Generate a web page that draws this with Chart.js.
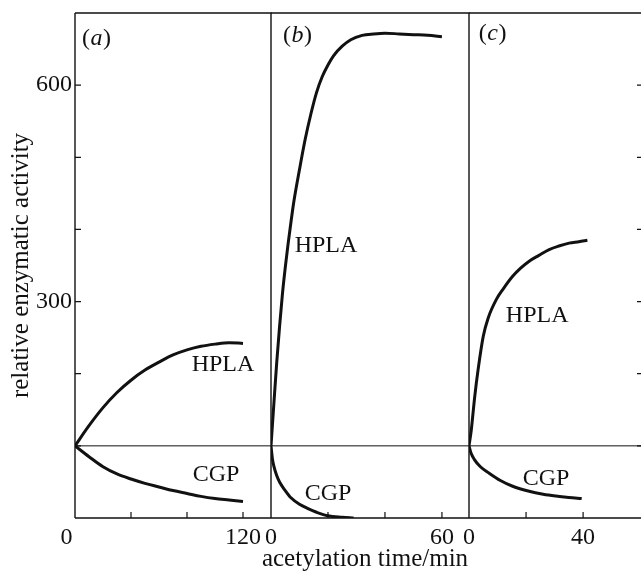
<!DOCTYPE html>
<html>
<head>
<meta charset="utf-8">
<title>Acetylation time course</title>
<style>
  html, body { margin: 0; padding: 0; background: #fff; width: 641px; height: 572px; overflow: hidden; }
  canvas { position: absolute; top: 0; }
</style>
</head>
<body>
<canvas id="panelA" width="281" height="572" style="left:0px"></canvas>
<canvas id="panelB" width="218" height="572" style="left:261px"></canvas>
<canvas id="panelC" width="194" height="572" style="left:459px"></canvas>

<script src="https://cdn.jsdelivr.net/npm/chart.js"></script>
<script>
// (a) acetylation up to 120 min
const timeA = [0, 10, 20, 30, 40, 50, 60, 70, 80, 90, 100, 110, 120];
const hplaA = [100, 128, 153, 174, 191, 205, 216, 226, 233, 238, 241, 243, 242];
const cgpA  = [100, 85, 71, 61, 54, 48, 43, 38, 34, 30, 27, 25, 23];

// (b) acetylation up to 60 min
const timeHplaB = [0, 1, 2, 3, 4, 5, 6, 7, 8, 10, 12, 14, 16, 18, 20, 22, 25, 28, 32, 36, 40, 45, 50, 55, 60];
const hplaB     = [100, 158, 215, 265, 310, 347, 380, 410, 438, 483, 525, 560, 590, 612, 628, 641, 654, 663, 669, 671, 672, 671, 670, 669, 667];
const timeCgpB  = [0, 0.5, 1, 2, 3, 5, 7, 10, 13, 16, 20, 25, 29];
const cgpB      = [100, 82, 72, 59, 50, 38, 28, 19, 13, 8, 3, 1, 0];

// (c) acetylation up to 40 min
const timeHplaC = [0, 0.8, 2, 3.2, 5, 6.7, 9.6, 11.9, 15.3, 18, 21.1, 24.5, 28.1, 31.5, 35.1, 38.5, 41.5];
const hplaC     = [100, 122, 168, 206, 252, 277, 303, 317, 335, 346, 356, 364, 372, 377, 381, 383, 385];
const timeCgpC  = [0, 0.7, 1.9, 4, 7.1, 11, 15.3, 21.1, 26, 30.4, 35, 39.5];
const cgpC      = [100, 90, 81, 71, 62, 52, 44, 37, 33, 30.5, 28.5, 27];

// axis ticks
const yTickValues = [100, 200, 300, 400, 500, 600];
const yTickLabels = [300, 600];
const xTicksA = [0, 40, 80, 120];
const xTicksB = [0, 20, 40, 60];
const xTicksC = [0, 20, 40];

const INK = '#111';
const SERIF = '"Liberation Serif", "Times New Roman", serif';

function pts(xs, ys) {
  return xs.map((t, i) => ({ x: t, y: ys[i] }));
}

// frame, baseline at 100, inward ticks, curve names and panel tags
const decor = {
  id: 'decor',
  afterDatasetsDraw(chart, args, opts) {
    const { ctx, chartArea: a } = chart;
    const x = chart.scales.x, y = chart.scales.y;
    ctx.save();
    ctx.strokeStyle = INK;

    const y100 = y.getPixelForValue(100);
    ctx.lineWidth = 1;
    ctx.beginPath();
    ctx.moveTo(a.left, y100);
    ctx.lineTo(a.right, y100);
    ctx.stroke();

    // frame; the left side is shared with the previous panel
    ctx.lineWidth = 1.4;
    ctx.beginPath();
    if (opts.leftBorder) {
      ctx.moveTo(a.left, a.top);
      ctx.lineTo(a.left, a.bottom);
    }
    ctx.moveTo(a.left, a.top);
    ctx.lineTo(a.right, a.top);
    ctx.lineTo(a.right, a.bottom);
    ctx.moveTo(a.left, a.bottom);
    ctx.lineTo(a.right, a.bottom);
    ctx.stroke();

    ctx.lineWidth = 1.2;
    ctx.beginPath();
    opts.xTicks.forEach(v => {
      if (v === 0) return;
      const px = x.getPixelForValue(v);
      ctx.moveTo(px, a.bottom);
      ctx.lineTo(px, a.bottom - 6);
    });
    yTickValues.forEach(v => {
      const py = y.getPixelForValue(v);
      if (opts.leftTicks) { ctx.moveTo(a.left, py); ctx.lineTo(a.left + 6, py); }
      if (opts.rightTicks) { ctx.moveTo(a.right, py); ctx.lineTo(a.right - 6, py); }
    });
    ctx.stroke();

    ctx.fillStyle = INK;
    ctx.textBaseline = 'middle';
    ctx.textAlign = 'center';
    ctx.font = '24px ' + SERIF;
    opts.names.forEach(n => {
      ctx.fillText(n.text, x.getPixelForValue(n.x), y.getPixelForValue(n.y));
    });

    // shared x axis title, placed under the middle panel
    if (opts.xTitle) {
      ctx.font = '25px ' + SERIF;
      ctx.textBaseline = 'alphabetic';
      ctx.fillText(opts.xTitle.text, x.getPixelForValue(opts.xTitle.x), a.bottom + 48);
      ctx.textBaseline = 'middle';
    }

    // panel tag like (a), letter in italic
    const tag = opts.tag;
    const up = '24px ' + SERIF, it = 'italic 24px ' + SERIF;
    ctx.font = up;
    const wl = ctx.measureText('(').width, wr = ctx.measureText(')').width;
    ctx.font = it;
    const wm = ctx.measureText(tag.text).width;
    let cx = x.getPixelForValue(tag.x) - (wl + wm + wr) / 2;
    const cy = y.getPixelForValue(tag.y);
    ctx.textAlign = 'left';
    ctx.font = up; ctx.fillText('(', cx, cy); cx += wl;
    ctx.font = it; ctx.fillText(tag.text, cx + 0.5, cy); cx += wm + 1;
    ctx.font = up; ctx.fillText(')', cx, cy);
    ctx.restore();
  }
};

function lineSet(data) {
  return {
    data: data,
    borderColor: INK,
    borderWidth: 3,
    pointRadius: 0,
    fill: false,
    tension: 0.4,
    cubicInterpolationMode: 'monotone'
  };
}

function panel(id, cfg) {
  new Chart(document.getElementById(id), {
    type: 'line',
    data: { datasets: cfg.datasets.map(lineSet) },
    plugins: [decor],
    options: {
      responsive: false,
      animation: false,
      devicePixelRatio: 1,
      layout: { padding: cfg.padding },
      plugins: {
        legend: { display: false },
        tooltip: { enabled: false },
        decor: cfg.decor
      },
      scales: {
        x: {
          type: 'linear',
          min: 0,
          max: cfg.xMax,
          grid: { display: false, drawTicks: false },
          border: { display: false },
          afterBuildTicks: s => { s.ticks = cfg.xTicks.map(v => ({ value: v })); },
          afterFit: s => { s.height = 54; s.paddingLeft = 0; s.paddingRight = 0; },
          ticks: {
            color: INK,
            padding: 5,
            maxRotation: 0,
            font: { family: SERIF, size: 24 },
            callback: cfg.xLabel
          }
        },
        y: {
          display: cfg.showY,
          min: 0,
          max: 700,
          grid: { display: false, drawTicks: false },
          border: { display: false },
          afterFit: s => { s.width = cfg.showY ? 75 : 0; s.paddingTop = 0; s.paddingBottom = 0; },
          ticks: {
            stepSize: 100,
            color: INK,
            padding: 3,
            font: { family: SERIF, size: 24 },
            callback: v => yTickLabels.includes(v) ? String(v) : ''
          },
          title: {
            display: true,
            text: 'relative enzymatic activity',
            color: INK,
            font: { family: SERIF, size: 25 },
            padding: { top: 6, bottom: 0 }
          }
        }
      }
    }
  });
}

panel('panelA', {
  datasets: [pts(timeA, hplaA), pts(timeA, cgpA)],
  padding: { left: 0, right: 10, top: 13, bottom: 0 },
  xMax: 140,
  xTicks: xTicksA,
  xLabel: v => v === 0 ? '0\u2002\u2009' : (v === 120 ? '120' : ''),
  showY: true,
  decor: {
    xTicks: xTicksA, leftTicks: true, rightTicks: false, leftBorder: true,
    tag: { text: 'a', x: 15, y: 665 },
    names: [{ text: 'HPLA', x: 105.7, y: 212 }, { text: 'CGP', x: 100.7, y: 60 }]
  }
});

panel('panelB', {
  datasets: [pts(timeHplaB, hplaB), pts(timeCgpB, cgpB)],
  padding: { left: 10, right: 10, top: 13, bottom: 0 },
  xMax: 69.5,
  xTicks: xTicksB,
  xLabel: v => (v === 0 || v === 60) ? String(v) : '',
  showY: false,
  decor: {
    xTicks: xTicksB, leftTicks: false, rightTicks: false, leftBorder: false,
    tag: { text: 'b', x: 9.1, y: 668 },
    names: [{ text: 'HPLA', x: 19.3, y: 378 }, { text: 'CGP', x: 20, y: 33 }],
    xTitle: { text: 'acetylation time/min', x: 33 }
  }
});

panel('panelC', {
  datasets: [pts(timeHplaC, hplaC), pts(timeCgpC, cgpC)],
  padding: { left: 10, right: 10, top: 13, bottom: 0 },
  xMax: 61,
  xTicks: xTicksC,
  xLabel: v => (v === 0 || v === 40) ? String(v) : '',
  showY: false,
  decor: {
    xTicks: xTicksC, leftTicks: false, rightTicks: true, leftBorder: false,
    tag: { text: 'c', x: 8.1, y: 671 },
    names: [{ text: 'HPLA', x: 23.9, y: 280 }, { text: 'CGP', x: 27, y: 54 }]
  }
});
</script>
</body>
</html>
